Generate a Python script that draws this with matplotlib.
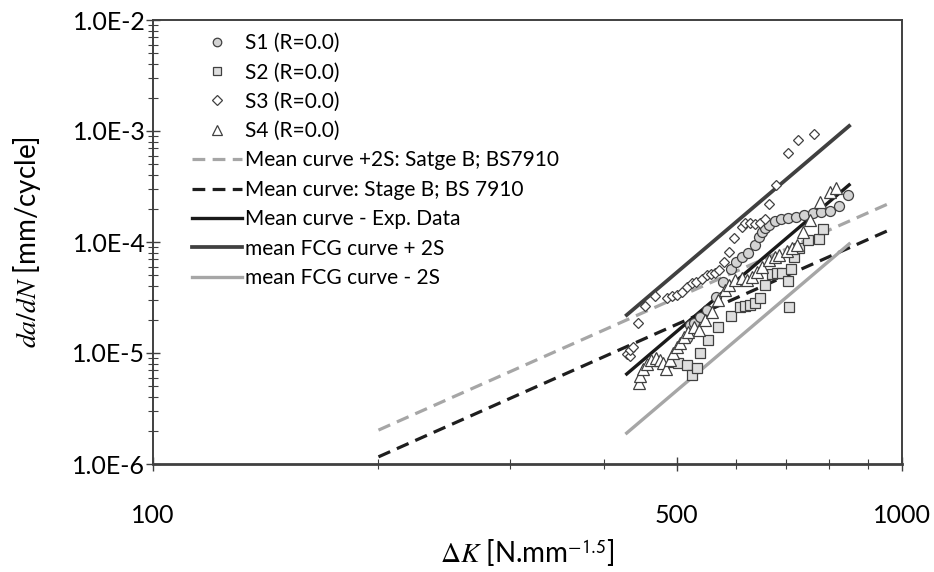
import matplotlib
matplotlib.use("Agg")
import matplotlib.pyplot as plt
from matplotlib.ticker import FixedLocator, FixedFormatter, NullFormatter

# ---------------- data ----------------
s1_dk = [516, 521, 528, 538, 549, 565, 577, 592, 600, 612, 623, 636, 645, 650, 656, 664,
         677, 690, 704, 721, 740, 761, 780, 802, 824, 847]
s1_da = [1.37e-5, 1.79e-5, 1.88e-5, 2.12e-5, 2.44e-5, 3.21e-5, 4.36e-5, 5.71e-5, 6.65e-5,
         7.38e-5, 7.91e-5, 9.40e-5, 1.12e-4, 1.24e-4, 1.33e-4, 1.42e-4, 1.53e-4, 1.60e-4,
         1.64e-4, 1.69e-4, 1.75e-4, 1.81e-4, 1.85e-4, 1.90e-4, 2.12e-4, 2.65e-4]

s2_dk = [495, 502, 516, 524, 533, 538, 551, 568, 592, 608, 617, 627, 636, 646, 656, 671,
         681, 692, 705, 706, 711, 718, 729, 750, 775, 784]
s2_da = [8.30e-6, 8.13e-6, 7.80e-6, 6.34e-6, 7.33e-6, 9.94e-6, 1.31e-5, 1.73e-5, 2.15e-5,
         2.59e-5, 2.65e-5, 2.70e-5, 2.81e-5, 3.11e-5, 4.10e-5, 5.20e-5, 5.26e-5, 5.26e-5,
         4.46e-5, 2.59e-5, 5.68e-5, 7.38e-5, 8.91e-5, 1.05e-4, 1.06e-4, 1.30e-4]

s3_dk = [429, 434, 434, 438, 444, 454, 468, 486, 493, 501, 509, 516, 524, 531, 541, 549,
         556, 563, 570, 579, 588, 597, 612, 617, 627, 636, 646, 656, 664, 679, 704, 726, 763]
s3_da = [9.8e-6, 9.4e-6, 1.06e-5, 1.14e-5, 1.88e-5, 2.65e-5, 3.27e-5, 3.10e-5, 3.23e-5,
         3.33e-5, 3.55e-5, 3.97e-5, 4.25e-5, 4.39e-5, 4.61e-5, 5.05e-5, 5.15e-5, 5.29e-5,
         5.60e-5, 6.65e-5, 8.18e-5, 1.08e-4, 1.36e-4, 1.47e-4, 1.47e-4, 1.44e-4, 1.47e-4,
         1.61e-4, 2.19e-4, 3.27e-4, 6.38e-4, 8.30e-4, 9.33e-4]

s4_dk = [445, 447, 451, 456, 462, 469, 475, 480, 484, 490, 495, 500, 505, 512, 518, 527,
         535, 546, 557, 568, 580, 588, 598, 611, 621, 631, 641, 650, 664, 676, 685, 702,
         714, 724, 738, 754, 776, 802, 817]
s4_da = [5.42e-6, 6.24e-6, 7.18e-6, 7.96e-6, 8.65e-6, 9.10e-6, 8.73e-6, 8.20e-6, 7.18e-6,
         8.65e-6, 1.00e-5, 1.14e-5, 1.22e-5, 1.38e-5, 1.53e-5, 1.71e-5, 1.61e-5, 1.98e-5,
         2.36e-5, 3.00e-5, 3.70e-5, 4.10e-5, 4.55e-5, 4.71e-5, 4.55e-5, 4.86e-5, 5.37e-5,
         6.00e-5, 6.95e-5, 7.33e-5, 7.64e-5, 8.30e-5, 8.91e-5, 9.49e-5, 1.22e-4, 1.58e-4,
         2.29e-4, 2.84e-4, 3.05e-4]

bs_dk = [200, 966]
bs_mean2s = [2.02e-6, 2.26e-4]
bs_mean = [1.16e-6, 1.30e-4]

fcg_dk = [429, 850]
fcg_mean = [6.47e-6, 3.27e-4]
fcg_plus2s = [2.20e-5, 1.11e-3]
fcg_minus2s = [1.90e-6, 9.6e-5]

series_labels = ["S1 (R=0.0)", "S2 (R=0.0)", "S3 (R=0.0)", "S4 (R=0.0)"]
line_labels = ["Mean curve +2S: Satge B; BS7910", "Mean curve: Stage B; BS 7910",
               "Mean curve - Exp. Data", "mean FCG curve + 2S", "mean FCG curve - 2S"]

xmajor = [100, 500, 1000]
xmajor_labels = ["100", "500", "1000"]
xminor = [200, 300, 400, 600, 700, 800, 900]
ymajor = [1e-6, 1e-5, 1e-4, 1e-3, 1e-2]
ymajor_labels = ["1.0E-6", "1.0E-5", "1.0E-4", "1.0E-3", "1.0E-2"]
yminor = [m * d for d in [1e-6, 1e-5, 1e-4, 1e-3] for m in range(2, 10)]

# ---------------- style ----------------
plt.rcParams['font.family'] = ['Lato', 'DejaVu Sans']
plt.rcParams['mathtext.fontset'] = 'stix'

fig = plt.figure(figsize=(9.34, 5.72), dpi=100)
ax = fig.add_axes([153/934, 108/572, 749/934, 444/572])
ax.set_xscale('log')
ax.set_yscale('log')
ax.set_xlim(100, 1000)
ax.set_ylim(1e-6, 1e-2)

edge = '#404040'
dash = (0, (4.0, 2.3))
ax.plot(bs_dk, bs_mean2s, color='#a6a6a6', lw=2.3, ls=dash, label=line_labels[0], zorder=2)
ax.plot(bs_dk, bs_mean, color='#1e1e1e', lw=2.3, ls=dash, label=line_labels[1], zorder=2)
ax.plot(fcg_dk, fcg_mean, color='#1a1a1a', lw=2.4, label=line_labels[2], zorder=2)
ax.plot(fcg_dk, fcg_plus2s, color='#404040', lw=2.7, label=line_labels[3], zorder=2)
ax.plot(fcg_dk, fcg_minus2s, color='#a6a6a6', lw=2.4, label=line_labels[4], zorder=2)

mk = dict(ls='none', mec=edge, mew=0.9, zorder=3)
ax.plot(s1_dk, s1_da, marker='o', ms=7.2, mfc='#d3d3d3', label=series_labels[0], **mk)
ax.plot(s2_dk, s2_da, marker='s', ms=7.2, mfc='#dedede', label=series_labels[1], **mk)
ax.plot(s3_dk, s3_da, marker='D', ms=5.6, mfc='white', label=series_labels[2], **mk)
ax.plot(s4_dk, s4_da, marker='^', ms=8.2, mfc='white', label=series_labels[3], **mk)

# ticks
ax.xaxis.set_major_locator(FixedLocator(xmajor))
ax.xaxis.set_major_formatter(FixedFormatter(xmajor_labels))
ax.xaxis.set_minor_locator(FixedLocator(xminor))
ax.xaxis.set_minor_formatter(NullFormatter())
ax.yaxis.set_major_locator(FixedLocator(ymajor))
ax.yaxis.set_major_formatter(FixedFormatter(ymajor_labels))
ax.yaxis.set_minor_locator(FixedLocator(yminor))
ax.yaxis.set_minor_formatter(NullFormatter())

ax.tick_params(axis='both', which='major', direction='inout', length=10, width=1,
               color=edge, labelsize=18, labelcolor='black')
ax.tick_params(axis='both', which='minor', direction='inout', length=7, width=0.8, color=edge)
ax.tick_params(axis='x', which='major', pad=24)
ax.tick_params(axis='y', which='major', pad=0.5)

for s in ax.spines.values():
    s.set_color(edge)
    s.set_linewidth(1.4)
ax.spines['bottom'].set_linewidth(2.0)

ax.set_ylabel(r'$da/dN$ [mm/cycle]', fontsize=20, labelpad=21)
ax.set_xlabel(r'$\Delta K$ [N.mm$^{\mathsf{-1.5}}$]', fontsize=20, labelpad=7)

handles, labels = ax.get_legend_handles_labels()
order = [5, 6, 7, 8, 0, 1, 2, 3, 4]
ax.legend([handles[i] for i in order], [labels[i] for i in order],
          loc='upper left', bbox_to_anchor=(192/934, 1 - 33/572),
          bbox_transform=fig.transFigure, frameon=False, fontsize=15,
          handlelength=2.4, handletextpad=0.15, labelspacing=0.45,
          markerscale=0.85, borderaxespad=0, borderpad=0)

fig.savefig('out.png', dpi=100)
